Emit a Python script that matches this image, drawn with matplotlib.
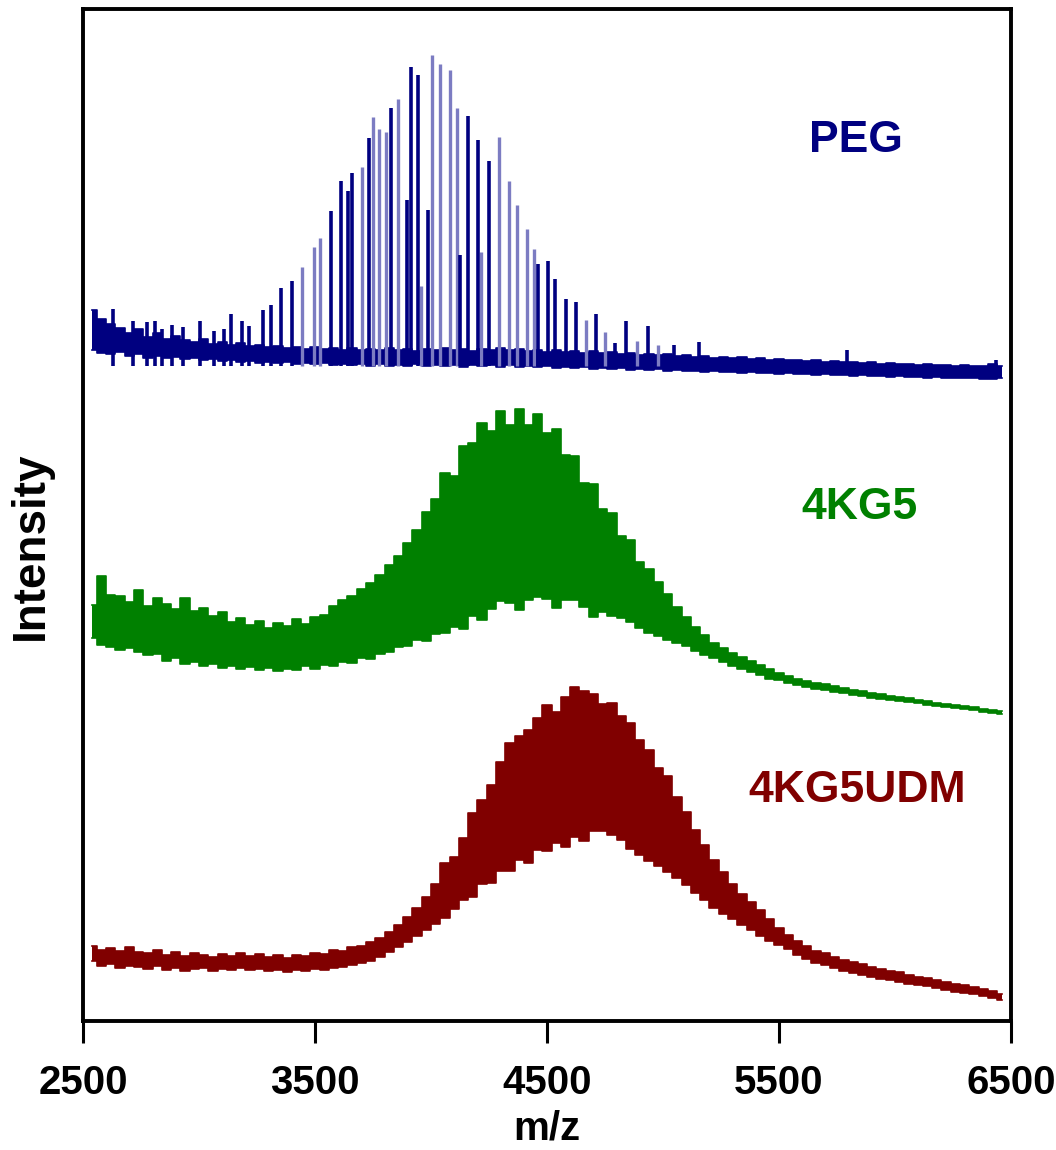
import matplotlib
matplotlib.use('Agg')
import matplotlib.pyplot as plt

# ---------------- data (m/z grid shared by the three spectra) ----------------
MZ = [2540, 2580, 2620, 2660, 2700, 2740, 2780, 2820, 2860, 2900,
      2940, 2980, 3020, 3060, 3100, 3140, 3180, 3220, 3260, 3300,
      3340, 3380, 3420, 3460, 3500, 3540, 3580, 3620, 3660, 3700,
      3740, 3780, 3820, 3860, 3900, 3940, 3980, 4020, 4060, 4100,
      4140, 4180, 4220, 4260, 4300, 4340, 4380, 4420, 4460, 4500,
      4540, 4580, 4620, 4660, 4700, 4740, 4780, 4820, 4860, 4900,
      4940, 4980, 5020, 5060, 5100, 5140, 5180, 5220, 5260, 5300,
      5340, 5380, 5420, 5460, 5500, 5540, 5580, 5620, 5660, 5700,
      5740, 5780, 5820, 5860, 5900, 5940, 5980, 6020, 6060, 6100,
      6140, 6180, 6220, 6260, 6300, 6340, 6380, 6420, 6460]

# PEG baseline noise band (upper / lower edge)
PEG_UPPER = [711, 702, 697, 693, 688, 692, 684, 688, 682, 685,
             681, 679, 682, 677, 679, 676, 678, 675, 676, 674,
             675, 673, 674, 672, 674, 672, 673, 671, 673, 671,
             672, 671, 673, 671, 672, 670, 672, 671, 673, 671,
             672, 670, 672, 671, 673, 671, 672, 670, 671, 669,
             671, 669, 670, 668, 670, 668, 669, 667, 668, 666,
             667, 666, 667, 665, 666, 664, 665, 663, 664, 663,
             664, 662, 663, 661, 662, 661, 661, 660, 661, 659,
             660, 659, 659, 658, 659, 657, 658, 657, 657, 656,
             657, 656, 656, 655, 656, 655, 655, 657, 655]
PEG_LOWER = [671, 668, 667, 669, 665, 667, 663, 665, 663, 664,
             662, 663, 661, 662, 660, 661, 659, 660, 658, 659,
             658, 659, 657, 658, 657, 658, 656, 657, 656, 657,
             655, 657, 655, 656, 655, 657, 655, 656, 655, 656,
             654, 656, 655, 656, 654, 656, 654, 655, 654, 655,
             653, 654, 653, 654, 652, 653, 652, 653, 651, 652,
             651, 652, 650, 651, 650, 650, 649, 650, 649, 649,
             648, 649, 648, 648, 647, 648, 647, 647, 646, 647,
             646, 646, 645, 646, 645, 645, 644, 645, 644, 644,
             643, 644, 643, 643, 643, 643, 642, 642, 643]

# PEG oligomer peaks (strong, drawn dark)
PEG_PEAK_MZ_DARK = [2628, 2717, 2776, 2811, 2841, 2885, 2929, 3006, 3066, 3107,
                    3140, 3187, 3217, 3274, 3311, 3355, 3400, 3568, 3611, 3642,
                    3660, 3734, 3826, 3897, 3915, 3946, 3989, 4127, 4160, 4204,
                    4249, 4461, 4506, 4535, 4580, 4625, 4713, 4792, 4840, 4935,
                    5047, 5155, 5793, 6435]
PEG_PEAK_I_DARK = [712, 700, 699, 700, 692, 696, 694, 700, 690, 692,
                   707, 700, 695, 711, 716, 733, 740, 810, 840, 830,
                   848, 883, 913, 821, 954, 946, 811, 766, 905, 881,
                   860, 757, 760, 742, 722, 719, 707, 678, 700, 695,
                   676, 679, 671, 661]
# PEG peaks rendered lighter in the original
PEG_PEAK_MZ_LIGHT = [3444, 3494, 3522, 3704, 3749, 3778, 3808, 3856, 3956, 4004,
                     4038, 4080, 4112, 4216, 4294, 4338, 4369, 4414, 4446, 4669,
                     4750, 4890, 4980]
PEG_PEAK_I_LIGHT = [754, 774, 783, 854, 904, 892, 889, 922, 735, 966,
                    957, 951, 913, 769, 884, 840, 816, 792, 772, 701,
                    689, 680, 676]
PEG_PEAK_BASE = 655

# 4KG5 envelope
G_UPPER = [416, 445, 426, 425, 419, 431, 415, 423, 417, 412,
           423, 410, 413, 405, 409, 399, 403, 396, 400, 393,
           398, 395, 402, 397, 404, 406, 415, 421, 425, 432,
           438, 446, 456, 465, 478, 491, 509, 522, 548, 545,
           575, 578, 598, 590, 610, 596, 612, 596, 607, 588,
           592, 566, 565, 538, 537, 512, 508, 485, 481, 459,
           452, 439, 427, 414, 404, 394, 386, 378, 373, 368,
           364, 360, 356, 352, 348, 345, 342, 340, 338, 337,
           335, 333, 331, 330, 328, 327, 325, 324, 323, 321,
           320, 318, 317, 316, 315, 314, 312, 311, 310]
G_LOWER = [383, 376, 374, 371, 373, 369, 366, 367, 360, 363,
           357, 359, 355, 357, 353, 355, 352, 354, 351, 353,
           350, 352, 351, 355, 352, 356, 355, 359, 358, 363,
           362, 367, 369, 374, 375, 381, 380, 387, 388, 394,
           392, 405, 401, 412, 420, 418, 411, 421, 424, 422,
           413, 421, 421, 414, 404, 409, 405, 403, 399, 393,
           388, 385, 381, 378, 375, 370, 366, 363, 359, 355,
           352, 349, 346, 342, 341, 338, 336, 334, 332, 331,
           329, 328, 326, 325, 323, 322, 321, 320, 319, 318,
           316, 315, 314, 313, 312, 311, 309, 308, 307]

# 4KG5UDM envelope
R_UPPER = [75, 71, 73, 70, 74, 69, 68, 71, 66, 69,
           65, 68, 66, 64, 67, 65, 68, 65, 67, 64,
           66, 63, 66, 65, 68, 67, 71, 70, 74, 75,
           79, 83, 89, 96, 104, 113, 124, 137, 158, 164,
           183, 208, 221, 236, 259, 278, 285, 291, 303, 316,
           309, 324, 334, 330, 327, 317, 318, 305, 298, 281,
           271, 253, 245, 224, 209, 191, 176, 161, 149, 137,
           127, 119, 111, 102, 93, 86, 80, 75, 70, 68,
           64, 61, 59, 57, 54, 52, 50, 49, 46, 44,
           43, 41, 39, 37, 36, 34, 32, 30, 27]
R_LOWER = [60, 55, 57, 53, 55, 54, 52, 55, 51, 53,
           50, 52, 53, 50, 52, 51, 53, 51, 52, 50,
           51, 49, 51, 50, 52, 51, 53, 54, 56, 58,
           60, 64, 69, 74, 79, 85, 91, 97, 103, 112,
           121, 124, 137, 138, 150, 150, 161, 158, 171, 170,
           178, 174, 184, 180, 190, 190, 186, 181, 172, 166,
           160, 155, 149, 143, 136, 128, 121, 113, 107, 102,
           96, 91, 85, 80, 76, 72, 66, 62, 58, 56,
           53, 50, 48, 46, 44, 42, 41, 39, 37, 36,
           35, 33, 31, 29, 28, 27, 25, 23, 21]

X_TICKS = [2500, 3500, 4500, 5500, 6500]
LABELS = ['PEG', '4KG5', '4KG5UDM']

# ---------------- styling ----------------
NAVY = '#000080'
NAVY_LIGHT = '#7c7cc2'
GREEN = '#008000'
MAROON = '#800000'
FONT = 'Liberation Sans'

fig = plt.figure(figsize=(10.56, 11.5), dpi=100)
ax = fig.add_axes([83 / 1056, 1 - 1021 / 1150, 928 / 1056, 1012 / 1150])
ax.set_xlim(2500, 6500)
ax.set_ylim(0, 1012)


def band(upper, lower, color):
    ax.fill_between(MZ, lower, upper, step='mid', color=color, lw=0)
    ax.step(MZ, upper, where='mid', color=color, lw=1.2)
    ax.step(MZ, lower, where='mid', color=color, lw=1.2)


# PEG
band(PEG_UPPER, PEG_LOWER, NAVY)
ax.vlines(PEG_PEAK_MZ_LIGHT, PEG_PEAK_BASE, PEG_PEAK_I_LIGHT, color=NAVY_LIGHT, lw=2.4)
ax.vlines(PEG_PEAK_MZ_DARK, PEG_PEAK_BASE, PEG_PEAK_I_DARK, color=NAVY, lw=2.6)

# 4KG5 and 4KG5UDM
band(G_UPPER, G_LOWER, GREEN)
band(R_UPPER, R_LOWER, MAROON)

# labels
ax.text(5832, 881, LABELS[0], color=NAVY, fontsize=32, fontweight='bold',
        family=FONT, ha='center', va='center')
ax.text(5845, 514, LABELS[1], color=GREEN, fontsize=32, fontweight='bold',
        family=FONT, ha='center', va='center')
ax.text(5836, 231, LABELS[2], color=MAROON, fontsize=32, fontweight='bold',
        family=FONT, ha='center', va='center')

# axes styling
for s in ax.spines.values():
    s.set_linewidth(2.8)
    s.set_color('black')
ax.set_xticks(X_TICKS)
ax.set_xticklabels([str(t) for t in X_TICKS])
ax.tick_params(axis='x', direction='out', length=16, width=2.2, pad=15,
               labelsize=29)
for lab in ax.get_xticklabels():
    lab.set_fontweight('bold')
    lab.set_family(FONT)
ax.set_yticks([])
ax.set_xlabel('m/z', fontsize=29, fontweight='bold', family=FONT, labelpad=5)
ax.set_ylabel('Intensity', fontsize=33, fontweight='bold', family=FONT, labelpad=22)
ax.yaxis.label.set_y(0.47)

fig.savefig('out.png', dpi=100)
